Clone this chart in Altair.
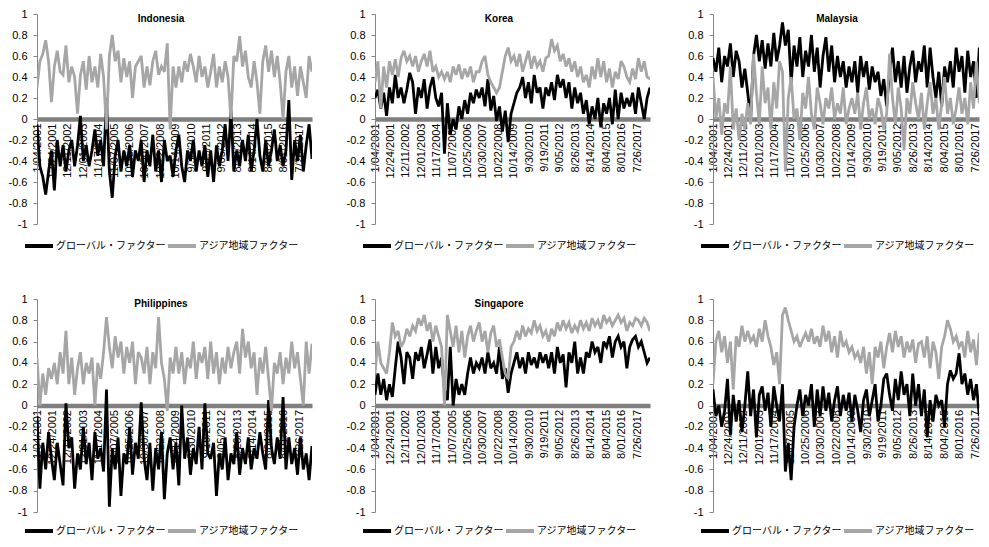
import altair as alt
import numpy as np
import pandas as pd

G = "グローバル・ファクター"
A = "アジア地域ファクター"
LAST_WEEK = 892
date_labels = ["1/04/2001", "12/24/2001", "12/11/2002", "12/01/2003", "11/17/2004",
               "11/07/2005", "10/25/2006", "10/30/2007", "10/22/2008", "10/14/2009",
               "9/30/2010", "9/19/2011", "9/05/2012", "8/26/2013", "8/14/2014",
               "8/04/2015", "8/01/2016", "7/26/2017"]
titles = ["Indonesia", "Korea", "Malaysia", "Philippines", "Singapore", ""]

indonesia_global = [
    -0.05, -0.45, -0.55, -0.72, -0.5, -0.3, -0.68, -0.2, -0.45, -0.25, -0.5, -0.3,
    -0.2, -0.45, -0.25, 0.03, -0.4, -0.25, -0.45, -0.3, -0.1, -0.35, -0.2, -0.45,
    0.2, -0.5, -0.75, -0.35, -0.2, -0.5, -0.3, -0.45, -0.25, -0.55, -0.3, -0.4,
    -0.2, -0.6, -0.3, -0.45, -0.15, -0.5, -0.3, -0.6, -0.2, -0.4, -0.35, -0.55,
    -0.3, -0.15, -0.45, -0.6, -0.3, -0.4, -0.2, -0.5, -0.3, -0.45, -0.25, -0.55,
    -0.3, -0.6, -0.25, -0.45, -0.3, -0.05, -0.4, 0.08, -0.5, -0.3, -0.45, -0.2,
    -0.4, -0.15, -0.5, -0.3, 0.0, -0.35, -0.5, -0.2, -0.45, -0.3, -0.1, -0.4,
    -0.25, -0.45, -0.3, 0.18, -0.58, -0.2, -0.4, -0.15, -0.5, -0.25, -0.05, -0.38]
indonesia_asia = [
    0.3, 0.55, 0.62, 0.75, 0.55, 0.16, 0.5, 0.65, 0.45, 0.42, 0.7, 0.35,
    0.5, 0.4, 0.05, 0.42, 0.55, 0.28, 0.6, 0.35, 0.5, 0.3, 0.62, 0.4,
    -0.1, 0.6, 0.8, 0.55, 0.65, 0.35, 0.58, 0.4, 0.55, 0.2, 0.5, 0.55,
    0.6, 0.3, 0.5, 0.32, 0.55, 0.65, 0.42, 0.5, 0.45, 0.72, -0.1, 0.5,
    0.3, 0.5, 0.35, 0.55, 0.45, 0.62, 0.5, 0.35, 0.6, 0.4, 0.5, 0.3,
    0.45, 0.62, 0.3, 0.5, 0.35, 0.55, 0.4, 0.0, 0.6, 0.55, 0.79, 0.5,
    0.65, 0.4, 0.3, 0.55, 0.35, 0.05, 0.55, 0.7, 0.45, 0.65, 0.4, 0.6,
    0.35, 0.0, 0.45, 0.6, 0.3, 0.5, 0.22, 0.5, 0.35, 0.2, 0.6, 0.45]

korea_global = [
    0.2, 0.28, 0.1, 0.25, 0.03, 0.3, 0.15, 0.42, 0.2, 0.3, 0.15, 0.28,
    0.44, 0.35, 0.05, 0.3, 0.2, 0.38, 0.1, 0.3, 0.4, 0.2, 0.12, 0.25,
    -0.33, 0.15, -0.15, 0.0, -0.1, 0.12, 0.0, 0.18, 0.05, 0.25, 0.15, 0.28,
    0.2, 0.3, 0.12, 0.38, 0.08, 0.22, -0.02, 0.12, -0.12, 0.08, -0.22, 0.05,
    0.15, 0.25, 0.3, 0.4, 0.2, 0.35, 0.15, 0.42, 0.25, 0.3, 0.1, 0.3,
    0.22, 0.35, 0.18, 0.42, 0.3, 0.38, 0.2, 0.35, 0.1, 0.3, 0.15, 0.25,
    0.05, 0.18, -0.05, 0.12, 0.0, 0.2, -0.08, 0.15, 0.05, 0.2, -0.05, 0.28,
    0.0, 0.25, 0.1, 0.2, 0.12, 0.25, 0.05, 0.3, 0.15, 0.0, 0.2, 0.3]
korea_asia = [
    0.35, 0.55, 0.1, 0.5, 0.3, 0.55, 0.42, 0.57, 0.4, 0.58, 0.65, 0.55,
    0.6, 0.5, 0.6, 0.45, 0.55, 0.62, 0.5, 0.65, 0.45, 0.5, 0.4, 0.45,
    0.38, 0.45, 0.35, 0.5, 0.42, 0.52, 0.38, 0.48, 0.4, 0.5, 0.35, 0.45,
    0.45, 0.55, 0.6, 0.42, 0.35, 0.3, 0.25, 0.3, 0.45, 0.6, 0.68, 0.55,
    0.6, 0.5, 0.62, 0.45, 0.55, 0.65, 0.48, 0.6, 0.5, 0.55, 0.45, 0.58,
    0.6, 0.76, 0.65, 0.7, 0.55, 0.62, 0.5, 0.58, 0.45, 0.55, 0.4, 0.5,
    0.35, 0.42, 0.3, 0.5, 0.38, 0.58, 0.4, 0.55, 0.35, 0.48, 0.3, 0.45,
    0.38, 0.55, 0.5, 0.4, 0.35, 0.48, 0.38, 0.58, 0.45, 0.55, 0.4, 0.38]

malaysia_global = [
    0.58, 0.45, 0.68, 0.35, 0.6, 0.5, 0.72, 0.4, 0.65, 0.55, 0.3, 0.48,
    0.25, 0.0, 0.6, 0.8, 0.55, 0.75, 0.48, 0.72, 0.5, 0.82, 0.55, 0.7,
    0.92, 0.7, 0.85, 0.35, 0.7, 0.5, 0.78, 0.4, 0.65, 0.5, 0.8, 0.45,
    0.68, 0.3, 0.6, 0.78, 0.45, 0.7, 0.35, 0.6, 0.4, 0.55, 0.3, 0.5,
    0.35, 0.55, 0.25, 0.6, 0.4, 0.55, 0.28, 0.5, 0.35, 0.45, 0.22, 0.38,
    0.12, 0.45, 0.68, 0.35, 0.55, 0.3, 0.6, 0.25, 0.5, 0.65, 0.35, 0.55,
    0.45, 0.7, 0.3, 0.68, 0.4, 0.2, 0.45, 0.12, 0.5, 0.35, 0.55, 0.3,
    0.68, 0.45, 0.6, 0.25, 0.65, 0.4, 0.55, 0.2, 0.68, 0.4, 0.55, 0.35]
malaysia_asia = [
    0.4, 0.0, 0.2, -0.15, 0.15, 0.05, 0.5, -0.1, 0.1, -0.2, 0.05, -0.1,
    0.15, -0.05, 0.62, 0.25, -0.05, 0.5, 0.15, 0.3, -0.1, 0.35, 0.1, 0.55,
    0.45, -0.5, 0.2, 0.4, 0.0, 0.1, -0.2, 0.25, 0.1, 0.4, 0.05, -0.1,
    0.3, 0.15, -0.05, 0.2, 0.1, 0.3, 0.0, 0.15, 0.05, 0.3, -0.05, 0.1,
    0.2, 0.05, 0.25, -0.1, 0.15, 0.3, 0.0, 0.1, -0.05, 0.2, 0.1, -0.1,
    0.05, 0.62, 0.2, -0.05, 0.3, 0.1, -0.3, 0.2, 0.05, 0.35, 0.15, 0.0,
    0.25, -0.1, 0.15, 0.35, 0.05, 0.2, -0.1, 0.15, 0.4, 0.05, 0.2, -0.05,
    0.1, 0.3, 0.05, 0.2, -0.05, 0.35, 0.1, 0.55, 0.15, 0.3, 0.05, 0.2]

philippines_global = [
    -0.1, -0.78, -0.35, -0.6, -0.25, -0.5, -0.7, -0.35, -0.55, -0.75, 0.02, -0.4,
    -0.3, -0.78, -0.45, -0.6, -0.2, -0.55, -0.35, -0.7, -0.25, -0.5, -0.4, -0.62,
    0.15, -0.95, -0.4, -0.6, -0.3, -0.85, -0.45, -0.55, -0.2, -0.65, -0.35, -0.5,
    0.03, -0.5, -0.7, -0.35, -0.8, -0.4, -0.6, -0.25, -0.88, -0.45, -0.3, -0.6,
    -0.35, -0.75, 0.0, -0.5, -0.3, -0.65, -0.4, -0.55, -0.2, -0.6, 0.02, -0.45,
    -0.5, -0.35, -0.85, -0.45, -0.6, -0.3, -0.7, -0.45, -0.55, -0.25, -0.65, -0.4,
    -0.55, -0.3, -0.6, -0.4, -0.5, -0.25, -0.45, -0.6, 0.05, -0.4, -0.55, -0.3,
    -0.5, 0.08, -0.6, -0.3, -0.55, -0.4, -0.65, -0.3, -0.6, -0.45, -0.7, -0.38]
philippines_asia = [
    0.45, 0.0, 0.3, 0.1, 0.35, 0.25, 0.4, 0.2, 0.5, 0.3, 0.7, 0.2,
    0.45, 0.1, 0.35, 0.5, 0.2, 0.4, 0.3, 0.45, 0.0, 0.4, 0.25, 0.5,
    0.83, 0.55, 0.35, 0.65, 0.45, 0.6, 0.3, 0.55, 0.4, 0.6, 0.2, 0.5,
    0.45, 0.3, 0.55, 0.2, 0.5, 0.35, 0.83, 0.4, 0.25, -0.05, 0.45, 0.3,
    0.55, 0.3, 0.5, 0.2, 0.45, 0.35, 0.6, 0.25, 0.5, 0.4, 0.55, 0.25,
    0.6, 0.3, 0.5, 0.2, 0.45, 0.3, 0.55, 0.35, 0.5, 0.6, 0.3, 0.72,
    0.45, 0.6, 0.35, 0.5, 0.1, 0.45, 0.3, 0.55, 0.25, -0.05, 0.4, 0.3,
    0.5, 0.2, 0.45, 0.3, 0.6, 0.35, 0.5, 0.25, 0.0, 0.6, 0.3, 0.58]

singapore_global = [
    0.1, 0.3, 0.1, 0.25, 0.05, 0.2, 0.08, 0.35, 0.6, 0.45, 0.2, 0.5,
    0.45, 0.25, 0.5, 0.42, 0.55, 0.35, 0.48, 0.62, 0.3, 0.55, 0.35, 0.45,
    0.15, 0.05, 0.55, 0.0, 0.25, 0.1, 0.2, 0.1, 0.3, 0.45, 0.3, 0.4,
    0.35, 0.45, 0.3, 0.5, 0.35, 0.4, 0.3, 0.55, 0.25, 0.35, 0.12, 0.3,
    0.4, 0.5, 0.35, 0.45, 0.3, 0.5, 0.38, 0.45, 0.35, 0.5, 0.4, 0.48,
    0.35, 0.5, 0.3, 0.55, 0.4, 0.48, 0.17, 0.5, 0.4, 0.6, 0.3, 0.45,
    0.3, 0.5, 0.45, 0.6, 0.5, 0.55, 0.4, 0.6, 0.55, 0.65, 0.45, 0.6,
    0.65, 0.55, 0.6, 0.35, 0.55, 0.62, 0.65, 0.55, 0.6, 0.5, 0.4, 0.45]
singapore_asia = [
    0.3, 0.6, 0.4, 0.35, 0.3, 0.5, 0.78, 0.65, 0.7, 0.55, 0.6, 0.72,
    0.65, 0.75, 0.7, 0.82, 0.75, 0.85, 0.7, 0.78, 0.6, 0.75, 0.65, 0.55,
    0.0, 0.85, 0.7, 0.55, 0.75, 0.5, 0.7, 0.45, 0.65, 0.75, 0.6, 0.7,
    0.78, 0.6, 0.7, 0.5, 0.68, 0.75, 0.55, 0.62, 0.45, 0.3, 0.25, 0.55,
    0.6, 0.7, 0.62, 0.75, 0.65, 0.72, 0.68, 0.8, 0.7, 0.75, 0.65, 0.7,
    0.6, 0.72, 0.65, 0.78, 0.7, 0.8, 0.72, 0.78, 0.68, 0.75, 0.7, 0.8,
    0.72, 0.78, 0.7, 0.82, 0.75, 0.8, 0.72, 0.85, 0.78, 0.82, 0.75, 0.8,
    0.85, 0.78, 0.82, 0.7, 0.78, 0.75, 0.82, 0.8, 0.75, 0.82, 0.78, 0.7]

sixth_global = [
    0.15, -0.1, 0.0, -0.2, -0.05, 0.25, -0.28, 0.1, -0.15, 0.05, -0.25, 0.0,
    0.32, -0.1, 0.15, -0.3, 0.1, 0.18, -0.05, 0.12, -0.2, 0.18, 0.0, -0.15,
    0.2, -0.62, -0.35, -0.7, -0.2, 0.0, 0.15, -0.1, 0.1, 0.0, 0.2, -0.2,
    0.15, -0.1, 0.18, -0.05, 0.12, -0.15, 0.05, 0.18, -0.1, 0.1, -0.05, 0.12,
    -0.15, 0.1, -0.05, -0.25, 0.05, 0.15, -0.1, 0.05, 0.2, -0.15, 0.0, 0.25,
    0.3, 0.1, -0.05, 0.25, 0.05, 0.32, 0.1, 0.2, -0.1, 0.3, 0.0, 0.2,
    -0.1, 0.15, -0.3, 0.05, -0.15, 0.1, 0.0, 0.05, -0.2, 0.2, 0.33, 0.25,
    0.3, 0.49, 0.2, 0.3, 0.1, 0.25, 0.05, 0.2, -0.1, 0.15, -0.2, 0.2]
sixth_asia = [
    0.2, 0.6, 0.7, 0.5, 0.65, 0.4, 0.6, 0.15, 0.65, 0.55, 0.75, 0.6,
    0.7, 0.6, 0.65, 0.55, 0.72, 0.6, 0.8, 0.65, 0.55, 0.38, 0.5, 0.2,
    0.85, 0.92, 0.8, 0.7, 0.6, 0.65, 0.55, 0.62, 0.68, 0.6, 0.72, 0.58,
    0.65, 0.55, 0.75, 0.6, 0.7, 0.5, 0.65, 0.45, 0.7, 0.55, 0.6, 0.5,
    0.55, 0.45, 0.5, 0.4, 0.55, 0.3, 0.5, 0.2, 0.55, 0.45, 0.6, 0.35,
    0.55, 0.68, 0.5, 0.7, 0.55, 0.65, 0.45, 0.6, 0.5, 0.62, 0.4, 0.58,
    0.6, 0.45, 0.65, 0.35, 0.6, 0.5, 0.25, 0.55, 0.65, 0.8, 0.72, 0.6,
    0.65, 0.55, 0.6, 0.45, 0.7, 0.5, 0.62, 0.38, 0.68, 0.6, 0.55, 0.7]

H1 = 210
H2 = 213
W = 275
PX_PER_WEEK = W / LAST_WEEK
LBL_FONT = "Liberation Sans"
JP_FONT = "Noto Sans CJK JP"

label_array = "[" + ",".join("'" + d + "'" for d in date_labels) + "]"


def panel(title, g, a, width, height):
    xmax = width / PX_PER_WEEK
    df = pd.concat([
        pd.DataFrame({"w": np.linspace(0, LAST_WEEK, len(g)), "v": g, "s": G}),
        pd.DataFrame({"w": np.linspace(0, LAST_WEEK, len(a)), "v": a, "s": A}),
    ])
    color = alt.Color(
        "s:N",
        scale=alt.Scale(domain=[G, A], range=["#000000", "#a6a6a6"]),
        legend=alt.Legend(
            title=None, orient="none", legendX=-5, legendY=225,
            direction="horizontal", symbolType="M-2.8,0H2.8", symbolSize=100,
            symbolStrokeWidth=4, labelFont=JP_FONT, labelFontSize=10,
            labelColor="#000000", columnPadding=-6, labelOffset=10, padding=0,
        ),
    )
    x = alt.X(
        "w:Q",
        scale=alt.Scale(domain=[0, xmax], nice=False, zero=False),
        axis=alt.Axis(
            values=[50 * i for i in range(len(date_labels))],
            labelExpr=label_array + "[round(datum.value/50)]",
            labelAngle=270, labelOverlap=False, ticks=False, tickSize=0,
            labelPadding=4, offset=-height / 2, domainColor="#7f7f7f",
            domainWidth=4.5, grid=False, title=None, labelFont=LBL_FONT,
            labelFontSize=11, labelColor="#000000", labelFlush=False,
        ),
    )
    y = alt.Y(
        "v:Q",
        scale=alt.Scale(domain=[-1, 1], nice=False),
        axis=alt.Axis(
            values=[round(-1 + 0.2 * i, 1) for i in range(11)],
            labelExpr="'' + round(datum.value*10)/10",
            tickSize=4, tickColor="#868686", domainColor="#868686",
            labelPadding=6, grid=False, title=None, labelFont=LBL_FONT,
            labelFontSize=11, labelColor="#000000",
        ),
    )
    base = alt.Chart(df)
    lg = base.transform_filter(alt.datum.s == G).mark_line(
        strokeWidth=2.8, clip=True, strokeJoin="miter", strokeMiterLimit=3
    ).encode(x=x, y=y, color=color)
    la = base.transform_filter(alt.datum.s == A).mark_line(
        strokeWidth=2.8, clip=True, strokeJoin="miter", strokeMiterLimit=3
    ).encode(x=x, y=y, color=color)
    layers = [lg, la]
    if title:
        t = alt.Chart(pd.DataFrame({"t": [title]})).mark_text(
            font=LBL_FONT, fontWeight="bold", fontSize=10, baseline="middle",
            align="center", color="#000000",
        ).encode(text="t:N", x=alt.value(124), y=alt.value(5))
        layers.append(t)
    return alt.layer(*layers).properties(width=width, height=height)


W3 = 266
chart = alt.concat(
    panel(titles[0], indonesia_global, indonesia_asia, W, H1),
    panel(titles[1], korea_global, korea_asia, W, H1),
    panel(titles[2], malaysia_global, malaysia_asia, W3, H1),
    panel(titles[3], philippines_global, philippines_asia, W, H2),
    panel(titles[4], singapore_global, singapore_asia, W, H2),
    panel(titles[5], sixth_global, sixth_asia, W3, H2),
    columns=3, spacing={"row": 75, "column": 63}, bounds="flush",
).resolve_scale(
    x="independent", y="independent", color="independent"
).resolve_legend(color="independent").properties(padding=0).configure_view(stroke=None)

chart.save("out.html", embed_options={"renderer": "svg", "actions": False})
